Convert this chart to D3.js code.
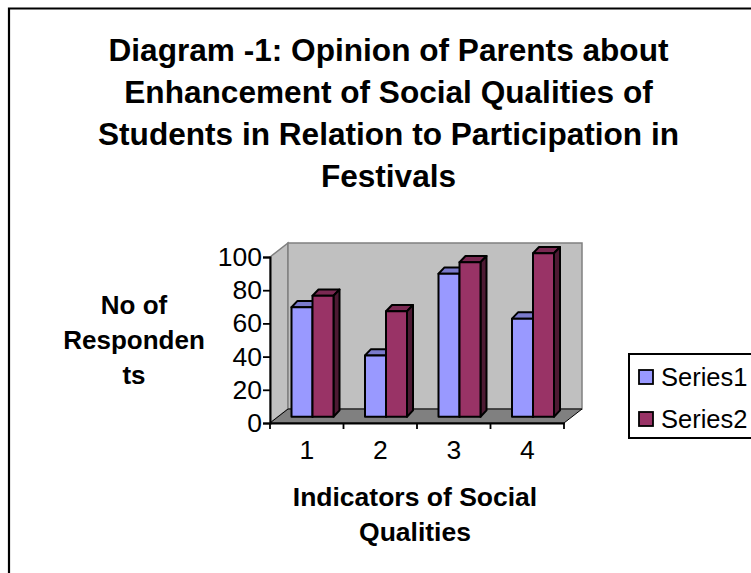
<!DOCTYPE html>
<html>
<head>
<meta charset="utf-8">
<title>Diagram -1</title>
<script src="https://cdn.jsdelivr.net/npm/d3@7"></script>
<style>
	html, body { margin: 0; padding: 0; background: #fff; }
	svg { display: block; font-family: "Liberation Sans", Arial, sans-serif; }
</style>
</head>
<body>
<svg id="chart" width="751" height="573"></svg>
<script>
	// values
	const categories = ['1', '2', '3', '4'];
	const seriesNames = ['Series1', 'Series2'];
	const series1 = [67, 37.5, 87.5, 60];
	const series2 = [74, 64.5, 94.5, 100];
	const yTicks = [0, 20, 40, 60, 80, 100];
	const titleLines = ['Diagram -1: Opinion of Parents about', 'Enhancement of Social Qualities of', 'Students in Relation to Participation in', 'Festivals'];
	const yTitleLines = ['No of', 'Responden', 'ts'];
	const xTitleLines = ['Indicators of Social', 'Qualities'];

	const colors = ['#9999ff', '#993366'];
	const topColors = ['#7a7acc', '#7a2952'];
	const sideColors = ['#4d4d80', '#4d1a33'];

	const svg = d3.select('#chart');

	// frame, right and bottom run off the picture
	svg.append('path').attr('d', 'M9,573V8.5H751').attr('fill', 'none').attr('stroke', '#000').attr('stroke-width', 2.2);

	// title
	svg.append('g').selectAll('text').data(titleLines).join('text')
		.attr('x', 388.5).attr('y', (d, i) => 61 + i * 42)
		.attr('text-anchor', 'middle')
		.attr('font-size', 31.6).attr('font-weight', 'bold')
		.text(d => d);

	// scales for the front plane of the box
	const x = d3.scaleBand().domain(categories).range([270, 564]);
	const y = d3.scaleLinear().domain([0, 100]).range([423, 257]);
	// bars stand a little way into the floor
	const barY = d3.scaleLinear().domain([0, 100]).range([416.7, 253.3]);
	const group = d3.scaleBand().domain(seriesNames).range([21.5, 63.5]);

	const depthX = 18, depthY = -14;
	const barDepthX = 6, barDepthY = -6.3;

	// back wall, side wall and floor
	const x0 = x.range()[0], x1 = x.range()[1];
	const yb = y(0), yt = y(100);
	svg.append('path')
		.attr('d', `M${x0},${yb}V${yt}L${x0 + depthX},${yt + depthY}V${yb + depthY}Z`)
		.attr('fill', '#c0c0c0').attr('stroke', '#808080').attr('stroke-width', 1.5);
	svg.append('rect')
		.attr('x', x0 + depthX).attr('y', yt + depthY)
		.attr('width', x1 - x0).attr('height', yb - yt)
		.attr('fill', '#c0c0c0').attr('stroke', '#808080').attr('stroke-width', 1.5);
	svg.append('path')
		.attr('d', `M${x0},${yb}L${x0 + depthX},${yb + depthY}H${x1 + depthX}L${x1},${yb}Z`)
		.attr('fill', '#808080').attr('stroke', '#000').attr('stroke-width', 1);

	// bars, series 1 first so series 2 sits over its side face
	[series1, series2].forEach((values, s) => {
		const g = svg.append('g').selectAll('g').data(values).join('g')
			.attr('stroke', '#000').attr('stroke-width', 2).attr('stroke-linejoin', 'round');
		const left = (d, i) => x(categories[i]) + group(seriesNames[s]);
		const right = (d, i) => left(d, i) + group.bandwidth();
		g.append('path')
			.attr('fill', topColors[s])
			.attr('d', (d, i) => `M${left(d, i)},${barY(d)}l${barDepthX},${barDepthY}H${right(d, i) + barDepthX}L${right(d, i)},${barY(d)}Z`);
		g.append('path')
			.attr('fill', sideColors[s])
			.attr('d', (d, i) => `M${right(d, i)},${barY(d)}l${barDepthX},${barDepthY}V${barY(0) + barDepthY}L${right(d, i)},${barY(0)}Z`);
		g.append('rect')
			.attr('fill', colors[s])
			.attr('x', left).attr('y', d => barY(d))
			.attr('width', group.bandwidth())
			.attr('height', d => barY(0) - barY(d));
	});

	// axes
	const yAxis = svg.append('g').attr('transform', `translate(${x0},0)`)
		.call(d3.axisLeft(y).tickValues(yTicks).tickSize(7).tickPadding(1));
	const xAxis = svg.append('g').attr('transform', `translate(0,${yb})`)
		.call(d3.axisBottom(x).tickSize(0).tickPadding(17));
	xAxis.selectAll('.tick').append('line')
		.attr('x1', x.step() / 2).attr('x2', x.step() / 2)
		.attr('y1', 0).attr('y2', 6).attr('stroke', '#000');
	xAxis.append('line').attr('x1', x0).attr('x2', x0).attr('y1', 0).attr('y2', 6).attr('stroke', '#000');
	[yAxis, xAxis].forEach(a => {
		a.selectAll('.domain').attr('stroke', '#000').attr('stroke-width', 2);
		a.selectAll('line').attr('stroke', '#000').attr('stroke-width', 1.8);
		a.selectAll('text').attr('font-size', 26.5).attr('font-family', '"Liberation Sans", Arial, sans-serif').attr('fill', '#000');
	});

	// axis titles
	svg.append('g').selectAll('text').data(yTitleLines).join('text')
		.attr('x', 134).attr('y', (d, i) => 314 + i * 35)
		.attr('text-anchor', 'middle')
		.attr('font-size', 26).attr('font-weight', 'bold')
		.text(d => d);
	svg.append('g').selectAll('text').data(xTitleLines).join('text')
		.attr('x', 415).attr('y', (d, i) => 506 + i * 35)
		.attr('text-anchor', 'middle')
		.attr('font-size', 26.5).attr('font-weight', 'bold')
		.text(d => d);

	// legend
	svg.append('path').attr('d', 'M751,354H629V438H751').attr('fill', '#fff').attr('stroke', '#000').attr('stroke-width', 2);
	const legend = svg.append('g').selectAll('g').data(seriesNames).join('g')
		.attr('transform', (d, i) => `translate(639,${377 + i * 42})`);
	legend.append('rect')
		.attr('x', 0).attr('y', -7).attr('width', 14).attr('height', 14)
		.attr('fill', (d, i) => colors[i]).attr('stroke', '#000').attr('stroke-width', 1.8);
	legend.append('text')
		.attr('x', 22).attr('y', 9)
		.attr('font-size', 25.5)
		.text(d => d);
</script>
</body>
</html>
